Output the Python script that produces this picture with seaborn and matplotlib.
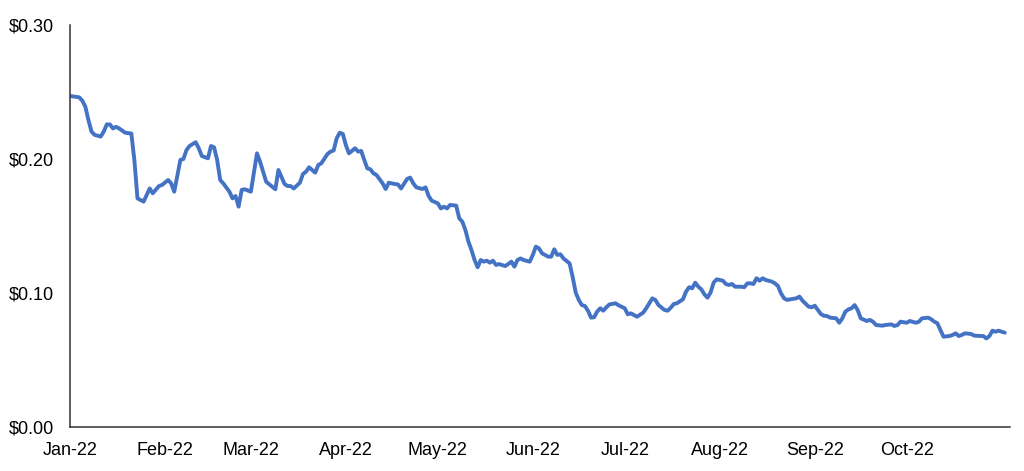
import pandas as pd
import numpy as np
import matplotlib
matplotlib.use("Agg")
import matplotlib.pyplot as plt
import matplotlib.dates as mdates
from matplotlib.ticker import FuncFormatter
import seaborn as sns

# days since 2022-01-01 and price
day = [0, 3, 4, 5, 6, 7, 8, 10, 11, 12, 13, 14, 15, 16, 18, 20, 21, 22, 24, 26,
       27, 29, 30, 32, 33, 34, 36, 37, 38, 39, 41, 42, 43, 45, 46, 47, 48, 49, 50, 52,
       53, 54, 55, 56, 57, 59, 60, 61, 62, 64, 66, 67, 68, 70, 71, 72, 73, 75, 76, 77,
       78, 80, 81, 82, 84, 85, 86, 87, 88, 89, 90, 91, 93, 94, 95, 96, 97, 98, 99, 100,
       102, 103, 104, 106, 107, 108, 110, 111, 112, 113, 115, 116, 117, 118, 120, 121, 122, 123, 124, 126,
       127, 128, 129, 130, 131, 132, 133, 134, 135, 136, 137, 138, 139, 140, 142, 143, 144, 145, 146, 147,
       148, 150, 151, 152, 153, 154, 155, 156, 157, 158, 159, 160, 161, 163, 164, 165, 166, 167, 168, 169,
       170, 171, 172, 173, 174, 175, 176, 178, 179, 181, 182, 183, 185, 187, 188, 189, 190, 191, 192, 194,
       195, 196, 197, 198, 200, 201, 202, 203, 204, 205, 206, 207, 208, 209, 210, 211, 213, 214, 215, 216,
       217, 219, 220, 221, 222, 223, 224, 225, 226, 227, 229, 230, 231, 232, 233, 234, 235, 237, 238, 239,
       241, 242, 243, 245, 246, 247, 248, 250, 251, 252, 253, 254, 255, 256, 257, 258, 260, 261, 262, 263,
       265, 266, 268, 269, 270, 271, 273, 274, 276, 277, 278, 280, 281, 282, 283, 284, 285, 287, 288, 289,
       290, 291, 292, 294, 295, 297, 298, 299, 300, 301, 302, 303, 304, 305]
price = [0.247, 0.246, 0.2435, 0.239, 0.229, 0.2205, 0.218, 0.2167, 0.2205, 0.2258, 0.2258, 0.2228, 0.224, 0.2228, 0.2196, 0.219, 0.199, 0.1706, 0.1682, 0.178,
         0.1744, 0.1798, 0.1806, 0.1843, 0.1818, 0.1756, 0.1993, 0.2, 0.2067, 0.2097, 0.2125, 0.208, 0.2022, 0.2005, 0.2097, 0.2087, 0.1993, 0.1843, 0.1818, 0.1756,
         0.1706, 0.1724, 0.1644, 0.1769, 0.1774, 0.1756, 0.19, 0.2042, 0.198, 0.183, 0.1793, 0.1774, 0.1918, 0.1813, 0.1798, 0.1798, 0.178, 0.1823, 0.1888, 0.1905,
         0.1938, 0.1898, 0.1955, 0.1968, 0.2037, 0.2055, 0.2063, 0.2154, 0.2196, 0.2187, 0.2104, 0.2042, 0.208, 0.2055, 0.206, 0.1993, 0.193, 0.1923, 0.1893, 0.188,
         0.1818, 0.1776, 0.1823, 0.1813, 0.181, 0.178, 0.1851, 0.1861, 0.1818, 0.1788, 0.1776, 0.1788, 0.1724, 0.1689, 0.1669, 0.1631, 0.1644, 0.1631, 0.1657, 0.1652,
         0.1557, 0.1532, 0.147, 0.1383, 0.132, 0.1246, 0.1192, 0.1246, 0.1234, 0.1241, 0.1226, 0.1241, 0.1209, 0.1216, 0.1201, 0.1216, 0.1234, 0.1197, 0.1246, 0.1258,
         0.1246, 0.1234, 0.1284, 0.1346, 0.1333, 0.1296, 0.1284, 0.1271, 0.1271, 0.1326, 0.1284, 0.1289, 0.1258, 0.1221, 0.112, 0.1003, 0.0948, 0.091, 0.0903, 0.0868,
         0.0816, 0.0819, 0.0861, 0.0886, 0.0868, 0.0893, 0.0915, 0.0923, 0.0908, 0.0886, 0.0841, 0.0848, 0.0823, 0.0853, 0.0886, 0.0923, 0.096, 0.0948, 0.091, 0.0873,
         0.0868, 0.089, 0.0918, 0.0923, 0.0953, 0.101, 0.1043, 0.1035, 0.1077, 0.1047, 0.1027, 0.099, 0.0965, 0.1003, 0.1077, 0.1102, 0.1092, 0.1067, 0.106, 0.1067,
         0.1047, 0.1047, 0.1043, 0.1072, 0.1072, 0.1067, 0.111, 0.1092, 0.111, 0.1097, 0.1085, 0.1072, 0.1052, 0.0997, 0.096, 0.0948, 0.0953, 0.096, 0.0973, 0.0943,
         0.0898, 0.0893, 0.0905, 0.0843, 0.083, 0.0828, 0.0816, 0.0811, 0.0778, 0.0811, 0.0861, 0.0878, 0.0886, 0.091, 0.0873, 0.0811, 0.0791, 0.0799, 0.0786, 0.0761,
         0.0756, 0.0761, 0.0766, 0.0754, 0.0761, 0.0786, 0.0778, 0.0791, 0.0778, 0.0786, 0.0811, 0.0816, 0.0804, 0.0786, 0.0774, 0.0724, 0.0674, 0.0679, 0.0687, 0.0699,
         0.0679, 0.0687, 0.0699, 0.0694, 0.0682, 0.0679, 0.0679, 0.0661, 0.0679, 0.0719, 0.0711, 0.0719, 0.0711, 0.0704]

y_ticks = [0.0, 0.1, 0.2, 0.3]
month_ticks = pd.date_range("2022-01-01", "2022-10-01", freq="MS")

start = pd.Timestamp("2022-01-01")
df = pd.DataFrame({"date": start + pd.to_timedelta(day, unit="D"), "price": price})

sns.set_theme(style="white")
plt.rcParams["font.family"] = ["Liberation Sans", "DejaVu Sans"]

fig = plt.figure(figsize=(10.24, 4.71), dpi=100)
ax = fig.add_axes([0.0684, 0.0934, 0.9176, 0.8536])

sns.lineplot(data=df, x="date", y="price", ax=ax, color="#4472C4", linewidth=2.8)

ax.set_ylim(0, 0.30)
ax.set_xlim(start, start + pd.Timedelta(days=306.6))
ax.set_yticks(y_ticks)
ax.yaxis.set_major_formatter(FuncFormatter(lambda v, p: f"${v:.2f}"))
ax.set_xticks(month_ticks)
ax.xaxis.set_major_formatter(mdates.DateFormatter("%b-%y"))
ax.tick_params(axis="both", length=0, labelsize=13, colors="black")
ax.tick_params(axis="y", pad=11.5)
ax.tick_params(axis="x", pad=11)
ax.set_xlabel("")
ax.set_ylabel("")

for s in ["top", "right"]:
    ax.spines[s].set_visible(False)
for s in ["left", "bottom"]:
    ax.spines[s].set_color("#333333")
    ax.spines[s].set_linewidth(1.1)

fig.savefig("out.png", dpi=100)
